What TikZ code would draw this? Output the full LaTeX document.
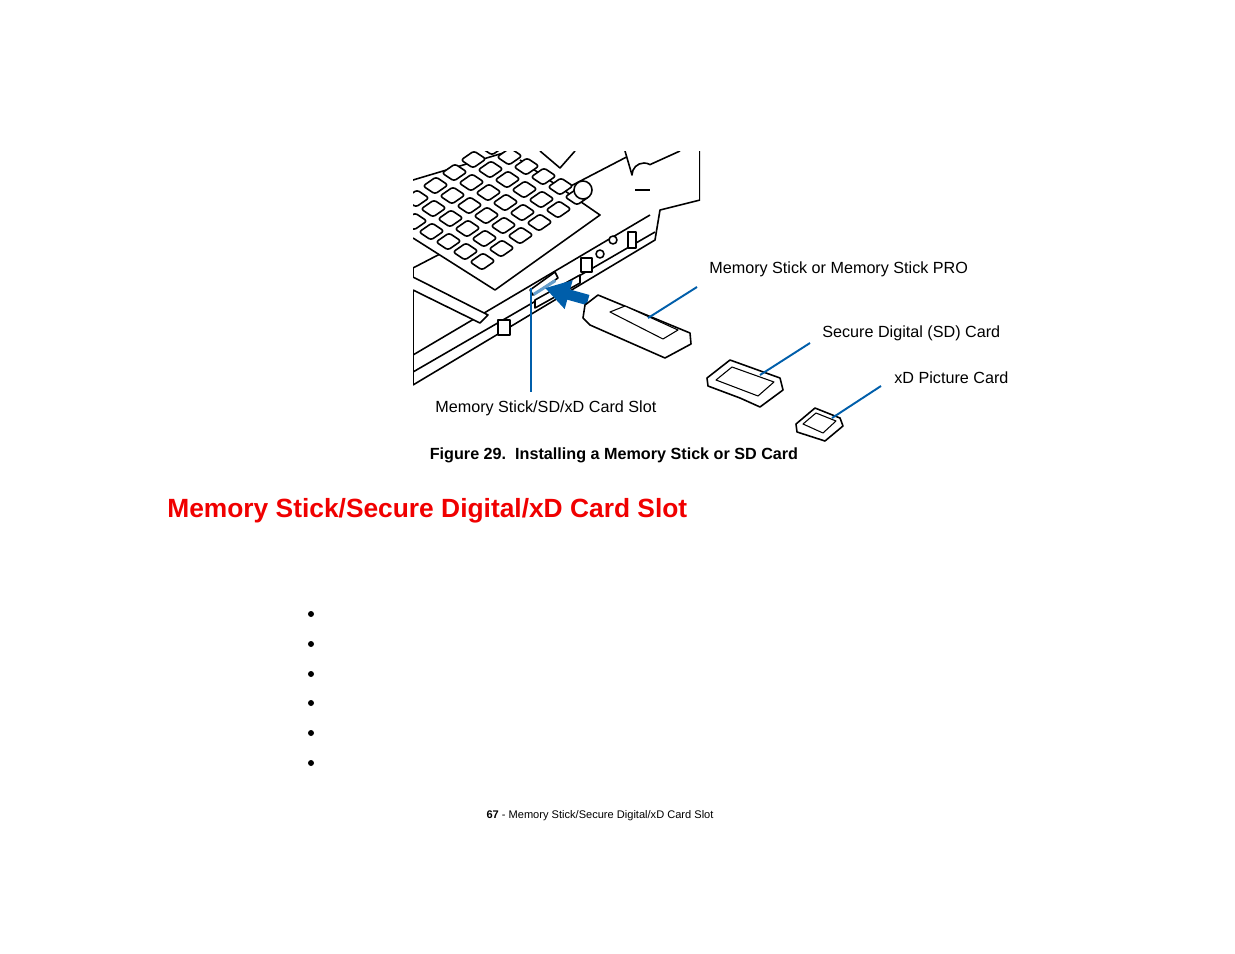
\documentclass[tikz,border=0pt]{standalone}
\usepackage{fontspec}
\setmainfont{Liberation Sans}
\usetikzlibrary{arrows.meta,calc}
\definecolor{leadblue}{RGB}{0,94,170}
\definecolor{titlered}{RGB}{240,0,0}
\tikzset{
  part/.style={draw=black,line width=0.9pt,line join=round,fill=white},
  lead/.style={draw=leadblue,line width=1.1pt},
  lbl/.style={font=\fontsize{9.2pt}{11pt}\selectfont,inner sep=0pt}
}
\begin{document}
\begin{tikzpicture}[x=0.02cm,y=-0.02cm]
\useasboundingbox (0,0) rectangle (1235,954);
\begin{scope}
\clip (413,151) rectangle (700,400);
% laptop body
\draw[part] (413,268) -- (640,150) -- (700,150) -- (700,200) -- (660,210)
  -- (655,240) -- (413,385) -- cycle;
\draw[part] (413,355) -- (650,215) (413,372) -- (655,232);
\draw[part] (625,151) -- (632,175) arc (180:300:12) -- (680,151);
\draw[part] (540,151) -- (560,168) -- (575,151);
\draw[part] (413,180) -- (510,151);
% keyboard
\draw[part] (413,238) -- (495,290) -- (600,215) -- (520,160);
\foreach \i in {0,...,5}
  \foreach \j in {0,...,5}{
    \draw[part,rounded corners=1.5pt,shift={($(482,270)+\i*(-17,-10)+\j*(19,-13)$)}]
      (0,0) -- (13,-9) -- (1,-17) -- (-12,-8) -- cycle;
  }
\draw[part] (413,290) -- (480,323) -- (488,315) -- (413,277);
\draw[part] (583,190) circle (9);
\draw[part] (635,190) -- (650,190);
% ports
\draw[part] (581,258) rectangle (592,272);
\draw[part] (600,254) circle (4) (613,240) circle (4);
\draw[part] (628,232) rectangle (636,248);
\draw[part] (498,320) rectangle (510,335);
\draw[part] (535,300) -- (580,275) -- (580,283) -- (535,308) -- cycle;
\draw[part] (530,290) -- (555,272) -- (558,278) -- (533,295) -- cycle;
\end{scope}
\fill[leadblue!60] (533,293) -- (555,279) -- (556,282) -- (534,296) -- cycle;
% arrow
\draw[leadblue,line width=6pt,-{Triangle[length=14pt,width=16pt]}] (588,300) -- (545,288);
% cards
\draw[part] (585,305) -- (598,295) -- (690,333) -- (691,344) -- (665,358) -- (590,325) -- (583,318) -- cycle;
\draw[part,line width=0.6pt] (610,312) -- (625,306) -- (678,330) -- (663,339) -- cycle;
\draw[part] (707,378) -- (730,360) -- (780,378) -- (783,390) -- (760,407) -- (740,398) -- (708,386) -- cycle;
\draw[part,line width=0.6pt] (716,380) -- (732,367) -- (774,382) -- (758,396) -- cycle;
\draw[part] (796,424) -- (815,408) -- (840,418) -- (843,426) -- (825,441) -- (797,432) -- cycle;
\draw[part,line width=0.6pt] (803,424) -- (816,413) -- (836,421) -- (823,433) -- cycle;
% labels and leaders
\node[lbl,anchor=base west] (ms) at (709,273) {Memory Stick or Memory Stick PRO};
\node[lbl,anchor=base west] (sd) at (822,337) {Secure Digital (SD) Card};
\node[lbl,anchor=base west] (xd) at (894,383) {xD Picture Card};
\node[lbl,anchor=base west] (slot) at (435,412) {Memory Stick/SD/xD Card Slot};
\coordinate (msend) at (648,318);
\coordinate (msstart) at (697,287);
\coordinate (sdend) at (760,375);
\coordinate (sdstart) at (810,343);
\coordinate (xdend) at (832,418);
\coordinate (xdstart) at (881,386);
\coordinate (slottop) at (531,288);
\coordinate (slotbot) at (531,392);
\draw[lead] (msstart) -- (msend);
\draw[lead] (sdstart) -- (sdend);
\draw[lead] (xdstart) -- (xdend);
\draw[lead] (slottop) -- (slotbot);
% text
\node[lbl,anchor=base,font=\bfseries\fontsize{9.2pt}{11pt}\selectfont] (cap) at (614,459)
  {Figure 29.\ \ Installing a Memory Stick or SD Card};
\node[lbl,anchor=base west,text=titlered,font=\bfseries\fontsize{15pt}{18pt}\selectfont] (title) at (167,517)
  {Memory Stick/Secure Digital/xD Card Slot};
\foreach \y in {614,644,674,703,733,763}
  \fill (311,\y) circle (3);
\node[lbl,anchor=base,font=\fontsize{6.3pt}{8pt}\selectfont] (foot) at (600,818)
  {\textbf{67} - Memory Stick/Secure Digital/xD Card Slot};
\end{tikzpicture}
\end{document}
